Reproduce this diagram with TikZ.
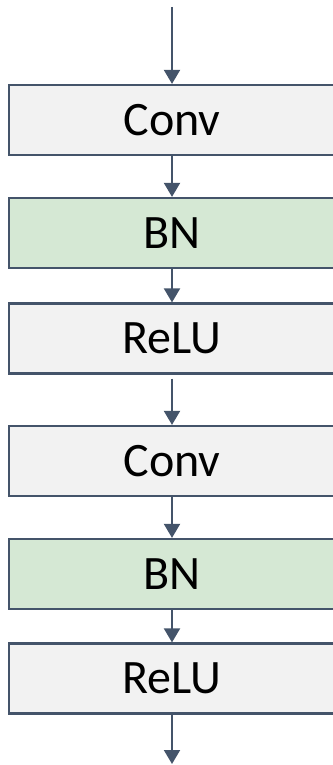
\documentclass[tikz,border=0pt]{standalone}
\usepackage{fontspec}
\setmainfont{Carlito}
\usetikzlibrary{arrows.meta}
\definecolor{edgec}{HTML}{44546A}
\definecolor{grayfill}{HTML}{F2F2F2}
\definecolor{greenfill}{HTML}{D5E8D4}
\begin{document}
\begin{tikzpicture}[x=1pt,y=1pt,
  layer/.style={draw=edgec, line width=2.2pt, minimum width=326pt, minimum height=70pt, inner sep=0pt, font=\fontsize{48}{48}\selectfont},
  graybox/.style={layer, fill=grayfill},
  greenbox/.style={layer, fill=greenfill},
  flow/.style={draw=edgec, line width=2pt, -{Triangle[width=16pt,length=14pt]}}]
\useasboundingbox (0,0) rectangle (332,-765);
\node[graybox]  (conv1) at (172,-120)   {Conv};
\node[greenbox] (bn1)   at (172,-233)   {BN};
\node[graybox]  (relu1) at (172,-338.5) {ReLU};
\node[graybox]  (conv2) at (172,-461)   {Conv};
\node[greenbox] (bn2)   at (172,-574)   {BN};
\node[graybox]  (relu2) at (172,-678.5) {ReLU};
\coordinate (in) at (172,-7);
\coordinate (out) at (172,-764);
\draw[flow] (in) -- (conv1.north);
\draw[flow] (conv1.south) -- (bn1.north);
\draw[flow] (bn1.south) -- (relu1.north);
\draw[flow, shorten <=4pt] (relu1.south) -- (conv2.north);
\draw[flow] (conv2.south) -- (bn2.north);
\draw[flow] (bn2.south) -- (relu2.north);
\draw[flow] (relu2.south) -- (out);
\end{tikzpicture}
\end{document}
